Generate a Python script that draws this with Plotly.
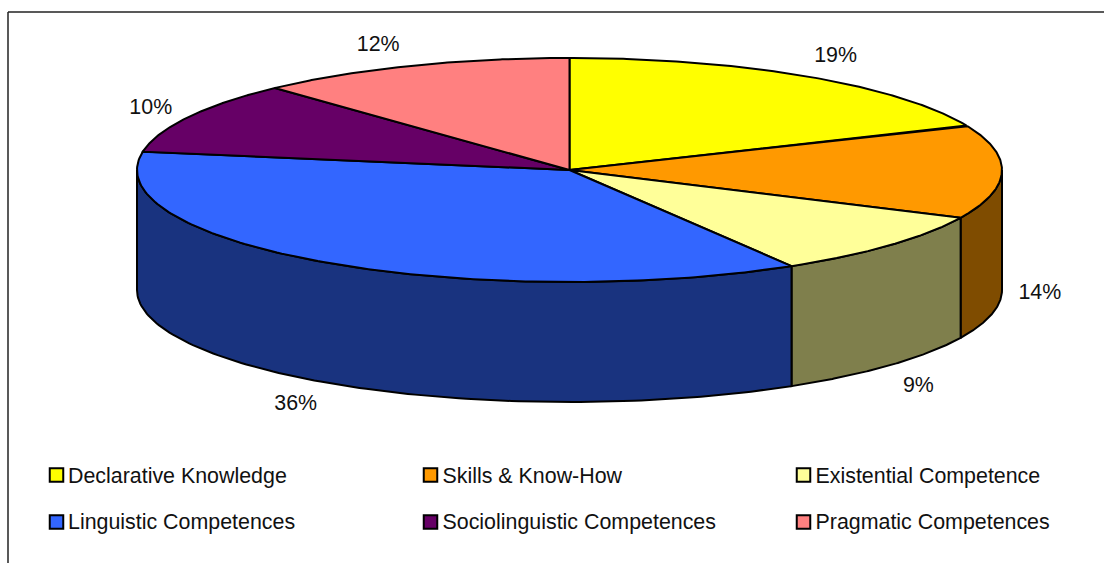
import numpy as np
import plotly.graph_objects as go

categories = ["Declarative Knowledge", "Skills & Know-How", "Existential Competence",
              "Linguistic Competences", "Sociolinguistic Competences", "Pragmatic Competences"]
values = [18.51, 13.51, 9.4, 36.2, 10.45, 11.93]
top_colors = ["#FFFF00", "#FF9900", "#FFFF99", "#3366FF", "#660066", "#FF8080"]
side_colors = ["#7F7F00", "#7F4C00", "#7F7F4C", "#19337F", "#330033", "#7F4040"]

# Layout constants (pixels)
W, H = 1104, 563
CX, CY, RX, RY, DEPTH = 569.5, 170, 432.5, 112, 120
LABEL_K = 1.12
label_nudge = [(0, -9), (-14, 2), (-10, 12), (-1, 11), (8, -2), (-14, -8)]
FONT = "Liberation Sans, Arial, sans-serif"
FS = 21.4


def ex(t):
    return CX + RX * np.sin(t)


def ey(t, dz=0):
    return CY - RY * np.cos(t) + dz


total = sum(values)
edges = np.radians(np.concatenate([[0], np.cumsum(values)]) / total * 360)
fig = go.Figure()
LINE = dict(color="black", width=2)

# side walls: only the front half of the cylinder is visible
for i in range(len(values)):
    a, b = max(edges[i], np.pi / 2), min(edges[i + 1], 3 * np.pi / 2)
    if b <= a:
        continue
    t = np.linspace(a, b, 120)
    xs = np.concatenate([ex(t), ex(t[::-1]), ex(t[:1])])
    ys = np.concatenate([ey(t), ey(t[::-1], DEPTH), ey(t[:1])])
    fig.add_trace(go.Scatter(x=xs, y=ys, mode="lines", fill="toself", fillcolor=side_colors[i],
                             line=LINE, showlegend=False, hoverinfo="skip"))

# top faces
for i, name in enumerate(categories):
    t = np.linspace(edges[i], edges[i + 1], 150)
    xs = np.concatenate([[CX], ex(t), [CX]])
    ys = np.concatenate([[CY], ey(t), [CY]])
    fig.add_trace(go.Scatter(x=xs, y=ys, mode="lines", fill="toself", fillcolor=top_colors[i],
                             line=LINE, name=name, showlegend=False, hoverinfo="skip"))

# data labels
mids = (edges[:-1] + edges[1:]) / 2
lx, ly, lt = [], [], []
for i, m in enumerate(mids):
    dz = DEPTH if np.cos(m) < 0.05 else 0
    lx.append(CX + LABEL_K * RX * np.sin(m) + label_nudge[i][0])
    ly.append(CY - LABEL_K * RY * np.cos(m) + dz + label_nudge[i][1])
    lt.append(f"{round(values[i] / total * 100)}%")
fig.add_trace(go.Scatter(x=lx, y=ly, mode="text", text=lt, textposition="middle center",
                         textfont=dict(family=FONT, size=FS, color="#111111"),
                         showlegend=False, hoverinfo="skip"))

# legend, three columns by two rows
col_x = [56.5, 430.5, 803.5]
text_x = [68, 442.5, 815.5]
row_y = [475, 522]
text_y = [478, 524]
for i, name in enumerate(categories):
    c, r = i % 3, i // 3
    fig.add_trace(go.Scatter(x=[col_x[c]], y=[row_y[r]], mode="markers",
                             marker=dict(symbol="square", size=13.5, color=top_colors[i],
                                         line=dict(color="black", width=2)),
                             showlegend=False, hoverinfo="skip"))
    fig.add_trace(go.Scatter(x=[text_x[c]], y=[text_y[r]], mode="text", text=[name],
                             textposition="middle right",
                             textfont=dict(family=FONT, size=FS, color="#111111"),
                             showlegend=False, hoverinfo="skip"))

# chart frame
fig.add_shape(type="line", x0=8, x1=8, y0=12, y1=H, line=dict(color="#222222", width=1.5))
fig.add_shape(type="line", x0=8, x1=W, y0=12, y1=12, line=dict(color="#222222", width=1.5))

fig.update_layout(width=W, height=H, margin=dict(l=0, r=0, t=0, b=0),
                  paper_bgcolor="white", plot_bgcolor="white", showlegend=False,
                  xaxis=dict(range=[0, W], visible=False, fixedrange=True),
                  yaxis=dict(range=[H, 0], visible=False, fixedrange=True))
fig.write_html("out.html", config=dict(displayModeBar=False),
               post_script="document.body.style.margin='0';document.body.style.overflow='hidden';")
